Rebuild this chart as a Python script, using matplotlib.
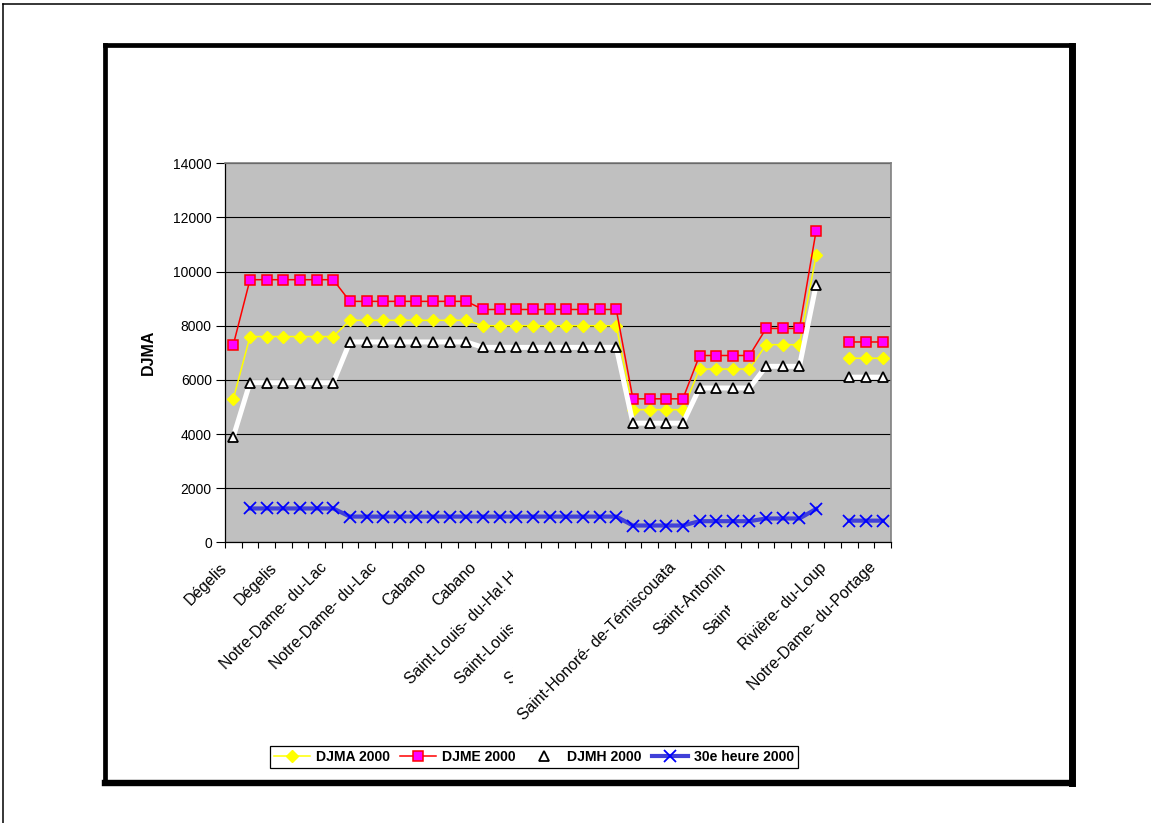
import numpy as np
import matplotlib
matplotlib.use('Agg')
import matplotlib.pyplot as plt
from matplotlib.lines import Line2D
from matplotlib.transforms import Bbox, TransformedBbox, offset_copy

nan = np.nan

# degree-day series per station (one value per category, nan = no data)
djma = [5300, 7600, 7600, 7600, 7600, 7600, 7600,
        8200, 8200, 8200, 8200, 8200, 8200, 8200, 8200,
        8000, 8000, 8000, 8000, 8000, 8000, 8000, 8000, 8000,
        4900, 4900, 4900, 4900, 6400, 6400, 6400, 6400,
        7300, 7300, 7300, 10600, nan, 6800, 6800, 6800]
djme = [7300, 9700, 9700, 9700, 9700, 9700, 9700,
        8900, 8900, 8900, 8900, 8900, 8900, 8900, 8900,
        8600, 8600, 8600, 8600, 8600, 8600, 8600, 8600, 8600,
        5300, 5300, 5300, 5300, 6900, 6900, 6900, 6900,
        7900, 7900, 7900, 11500, nan, 7400, 7400, 7400]
djmh = [3900, 5900, 5900, 5900, 5900, 5900, 5900,
        7400, 7400, 7400, 7400, 7400, 7400, 7400, 7400,
        7200, 7200, 7200, 7200, 7200, 7200, 7200, 7200, 7200,
        4400, 4400, 4400, 4400, 5700, 5700, 5700, 5700,
        6500, 6500, 6500, 9500, nan, 6100, 6100, 6100]
h30 = [nan, 1250, 1250, 1250, 1250, 1250, 1250,
       950, 950, 950, 950, 950, 950, 950, 950,
       950, 950, 950, 950, 950, 950, 950, 950, 950,
       620, 620, 620, 620, 780, 780, 780, 780,
       880, 880, 880, 1230, nan, 800, 800, 800]

# category labels shown on the axis (every third category)
label_idx = [0, 3, 6, 9, 12, 15, 18, 21, 24, 27, 30, 33, 36, 39]
label_txt = ['Dégelis', 'Dégelis', 'Notre-Dame- du-Lac', 'Notre-Dame- du-Lac',
             'Cabano', 'Cabano', 'Saint-Louis- du-Ha! Ha!', 'Saint-Louis- du-Ha! Ha!',
             'Saint-Louis- du-Ha! Ha!', 'Saint-Honoré- de-Témiscouata', 'Saint-Antonin',
             'Saint-Antonin', 'Rivière- du-Loup', 'Notre-Dame- du-Portage']
# labels that get cut off by their neighbours (right edge in pixels)
label_cut = {18: 513, 21: 513, 24: 513, 33: 730}

plt.rcParams['font.family'] = ['Liberation Sans', 'DejaVu Sans']

W, H = 1151, 823
fig = plt.figure(figsize=(W / 100, H / 100), dpi=100)
fig.patch.set_facecolor('white')

ax = fig.add_axes([225 / W, 1 - 542.3 / H, 666 / W, 379 / H])
ax.set_facecolor('#c0c0c0')
x = np.arange(len(djma))

ax.plot(x, djma, color='#ffff00', lw=1.1, marker='D', ms=6.5, mfc='#ffff00', mec='#ffff00',
        label='DJMA 2000', zorder=3)
ax.plot(x, djme, color='#ff0000', lw=1.1, marker='s', ms=7, mfc='#ff00ff', mec='#ff0000',
        mew=1.1, label='DJME 2000', zorder=3)
ax.plot(x, djmh, color='white', lw=3.6, marker='^', ms=7, mfc='white', mec='black',
        mew=1.3, label='DJMH 2000', zorder=3)
ax.plot(x, h30, color='#4040d8', lw=3, marker='x', ms=8.5, mec='#0000ff', mew=1.3,
        label='30e heure 2000', zorder=3)

ax.set_xlim(-0.5, len(djma) - 0.5)
ax.set_ylim(0, 14000)
ax.set_yticks(np.arange(0, 14001, 2000))
ax.yaxis.grid(True, color='black', lw=0.8)
ax.set_axisbelow(True)
ax.set_xticks(np.arange(-0.5, len(djma), 1))
ax.set_xticklabels([])
ax.tick_params(axis='y', direction='out', length=6.5, width=0.8, pad=3, labelsize=10)
ax.tick_params(axis='x', direction='out', length=4, width=0.8)
for s in ['left', 'bottom']:
    ax.spines[s].set_color('black')
    ax.spines[s].set_linewidth(0.9)
for s in ['top', 'right']:
    ax.spines[s].set_color('#808080')
    ax.spines[s].set_linewidth(1.2)

ax.text(-77 / 666, 0.5, 'DJMA', transform=ax.transAxes, rotation=90,
        ha='center', va='center', fontsize=11.5, fontweight='bold')

# rotated category labels
lab_tr = offset_copy(ax.get_xaxis_transform(), fig=fig, x=-9, y=-23, units='dots')
for i, t in zip(label_idx, label_txt):
    txt = ax.text(i, 0, t, transform=lab_tr, rotation=45, rotation_mode='anchor',
                  ha='right', va='center', fontsize=11.3)
    if i in label_cut:
        txt.set_clip_on(True)
        txt.set_clip_box(TransformedBbox(Bbox.from_extents(0, 0, label_cut[i] / W, 1),
                                         fig.transFigure))

leg = fig.legend(loc='center', bbox_to_anchor=(534 / W, 1 - 757 / H), ncol=4,
                 fancybox=False, edgecolor='black', framealpha=1,
                 prop={'weight': 'bold', 'size': 10.1}, handlelength=2.6,
                 columnspacing=0.7, handletextpad=0.4, borderpad=0.3)
leg.get_frame().set_linewidth(0.9)

# chart frame with shadow and outer page edge
fr = dict(transform=fig.transFigure, color='black', solid_capstyle='projecting')
fig.add_artist(Line2D([105 / W, 1071 / W], [1 - 45 / H, 1 - 45 / H], lw=3.4, **fr))
fig.add_artist(Line2D([105 / W, 105 / W], [1 - 45 / H, 1 - 783 / H], lw=3.4, **fr))
fig.add_artist(Line2D([1071.5 / W, 1071.5 / W], [1 - 46 / H, 1 - 783 / H], lw=5, **fr))
fig.add_artist(Line2D([105 / W, 1071.5 / W], [1 - 783 / H, 1 - 783 / H], lw=4.6, **fr))
fig.add_artist(Line2D([3 / W, W / W], [1 - 4 / H, 1 - 4 / H], lw=1.1, **fr))
fig.add_artist(Line2D([3 / W, 3 / W], [1 - 4 / H, 0], lw=1.1, **fr))

fig.savefig('out.png', dpi=100)
